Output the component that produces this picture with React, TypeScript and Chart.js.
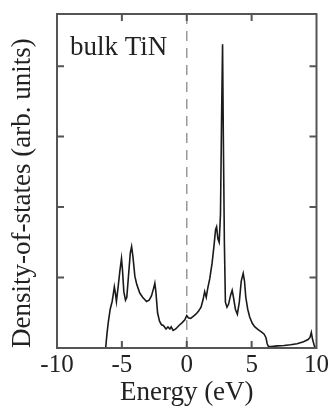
import React, { useEffect, useRef } from "react";
import { Chart, registerables } from "chart.js";

Chart.register(...registerables);

// Total density of states of bulk TiN versus energy (Fermi level at 0 eV)
const energy = [
  -6.25, -6.15, -6.05, -5.9, -5.75, -5.65, -5.58, -5.5, -5.42, -5.3, -5.15, -5.03, -4.95, -4.85,
  -4.72, -4.62, -4.5, -4.35, -4.25, -4.15, -4.0, -3.85, -3.62, -3.4, -3.1, -2.9, -2.72, -2.55,
  -2.46, -2.38, -2.25, -2.1, -1.95, -1.8, -1.6, -1.45, -1.3, -1.2, -1.05, -0.85, -0.6, -0.35,
  -0.15, 0.0, 0.12, 0.3, 0.5, 0.7, 0.9, 1.1, 1.25, 1.38, 1.5, 1.62, 1.77, 1.95, 2.1, 2.22, 2.3,
  2.4, 2.5, 2.6, 2.68, 2.76, 2.82, 2.9, 2.98, 3.1, 3.22, 3.38, 3.5, 3.6, 3.75, 3.9, 4.05, 4.2,
  4.35, 4.45, 4.55, 4.7, 4.85, 5.05, 5.25, 5.5, 5.75, 5.95, 6.1, 6.2, 6.3, 6.5, 7.0, 7.5, 8.0,
  8.5, 9.0, 9.35, 9.5, 9.6, 9.7, 9.85, 10.0,
];
const dos = [
  0.0, 0.2, 0.36, 0.55, 0.66, 0.78, 0.87, 0.78, 0.66, 0.85, 1.1, 1.27, 1.1, 0.8,
  0.68, 0.72, 1.0, 1.35, 1.44, 1.3, 1.02, 0.9, 0.78, 0.72, 0.66, 0.68, 0.74, 0.85,
  0.92, 0.8, 0.5, 0.38, 0.33, 0.32, 0.27, 0.3, 0.27, 0.3, 0.25, 0.27, 0.32, 0.36,
  0.4, 0.46, 0.43, 0.42, 0.45, 0.48, 0.52, 0.58, 0.68, 0.8, 0.72, 0.85, 0.98, 1.2, 1.45, 1.68, 1.72,
  1.55, 1.5, 1.9, 3.2, 4.31, 3.0, 1.5, 0.65, 0.58, 0.62, 0.75, 0.82, 0.72, 0.55, 0.48, 0.65, 0.95,
  1.06, 0.95, 0.72, 0.55, 0.44, 0.35, 0.3, 0.26, 0.23, 0.2, 0.15, 0.06, 0.02, 0.02, 0.03, 0.035, 0.045,
  0.06, 0.09, 0.12, 0.15, 0.22, 0.12, 0.02, 0.0,
];

const xRange = [-10, 10];
const yRange = [0, 4.74];
const xInnerTicks = [-5, 0, 5];
const yInnerTicks = [1, 2, 3, 4];
const fermiLevel = 0;

const sampleLabel = "bulk TiN";
const xTitle = "Energy (eV)";
const yTitle = "Density-of-states (arb. units)";

const SERIF = '"Liberation Serif", "Times New Roman", serif';
const TEXT = "#222";
const FRAME = "#555";

const fermiLine = {
  id: "fermiLine",
  beforeDatasetsDraw(chart: any) {
    const { ctx, chartArea, scales } = chart;
    const x = scales.x.getPixelForValue(fermiLevel);
    ctx.save();
    ctx.strokeStyle = "#999";
    ctx.lineWidth = 1.5;
    ctx.setLineDash([10, 7]);
    ctx.beginPath();
    ctx.moveTo(x, chartArea.top);
    ctx.lineTo(x, chartArea.bottom);
    ctx.stroke();
    ctx.restore();
  },
};

const frameAndTicks = {
  id: "frameAndTicks",
  afterDatasetsDraw(chart: any) {
    const { ctx, chartArea, scales } = chart;
    const { left, right, top, bottom } = chartArea;
    const len = 7;
    ctx.save();
    ctx.strokeStyle = FRAME;
    ctx.lineWidth = 2;
    ctx.strokeRect(left, top, right - left, bottom - top);
    ctx.beginPath();
    for (const v of xInnerTicks) {
      const x = scales.x.getPixelForValue(v);
      ctx.moveTo(x, bottom);
      ctx.lineTo(x, bottom - len);
      ctx.moveTo(x, top);
      ctx.lineTo(x, top + len);
    }
    for (const v of yInnerTicks) {
      const y = scales.y.getPixelForValue(v);
      ctx.moveTo(left, y);
      ctx.lineTo(left + len, y);
      ctx.moveTo(right, y);
      ctx.lineTo(right - len, y);
    }
    ctx.stroke();

    ctx.fillStyle = TEXT;
    ctx.font = `27px ${SERIF}`;
    ctx.textAlign = "left";
    ctx.textBaseline = "alphabetic";
    ctx.fillText(sampleLabel, left + 13, top + 41);
    ctx.restore();
  },
};

export default function App() {
  const canvasRef = useRef<HTMLCanvasElement | null>(null);

  useEffect(() => {
    const canvas = canvasRef.current;
    if (!canvas) return;
    const points = energy.map((e, i) => ({ x: e, y: dos[i] }));
    const chart = new Chart(canvas, {
      type: "scatter",
      data: {
        datasets: [
          {
            data: points,
            showLine: true,
            borderColor: "#1a1a1a",
            borderWidth: 1.6,
            pointRadius: 0,
            tension: 0,
            fill: false,
          },
        ],
      },
      options: {
        animation: false,
        responsive: false,
        devicePixelRatio: 1,
        layout: { padding: { left: 3, top: 14, right: 14, bottom: 0 } },
        plugins: {
          legend: { display: false },
          tooltip: { enabled: false },
        },
        scales: {
          x: {
            type: "linear",
            min: xRange[0],
            max: xRange[1],
            grid: { display: false, drawTicks: false },
            border: { display: false },
            ticks: {
              stepSize: 5,
              autoSkip: false,
              maxRotation: 0,
              padding: 2,
              color: TEXT,
              font: { family: SERIF, size: 25 },
              callback: (v: any) => String(v),
            },
            title: {
              display: true,
              text: xTitle,
              color: TEXT,
              font: { family: SERIF, size: 27 },
              padding: { top: 0, bottom: 8 },
            },
            afterFit: (s: any) => {
              s.height = 69;
            },
          },
          y: {
            type: "linear",
            min: yRange[0],
            max: yRange[1],
            grid: { display: false, drawTicks: false },
            border: { display: false },
            ticks: { display: false },
            title: {
              display: true,
              text: yTitle,
              align: "start",
              color: TEXT,
              font: { family: SERIF, size: 27 },
              padding: { top: 4, bottom: 4 },
            },
            afterFit: (s: any) => {
              s.width = 54;
            },
          },
        },
      },
      plugins: [fermiLine, frameAndTicks],
    });
    return () => chart.destroy();
  }, []);

  return (
    <div style={{ position: "fixed", left: 0, top: 0, width: 331, height: 417, background: "#fff" }}>
      <canvas ref={canvasRef} width={331} height={417} />
    </div>
  );
}
